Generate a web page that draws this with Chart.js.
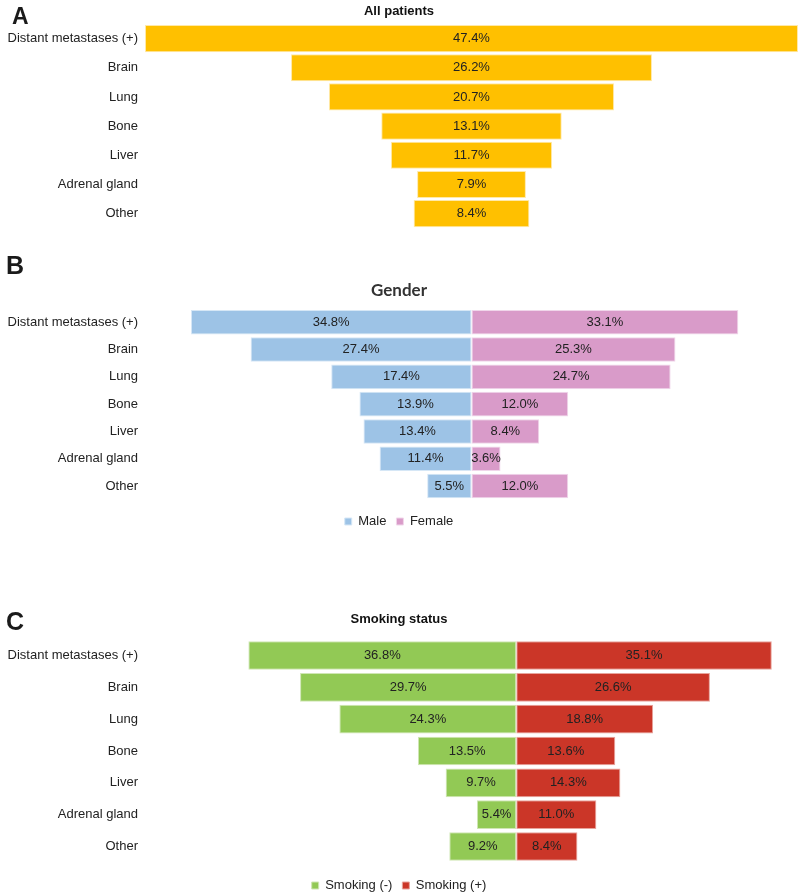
<!DOCTYPE html>
<html>
<head>
<meta charset="utf-8">
<script src="https://cdn.jsdelivr.net/npm/chart.js@4.4.1/dist/chart.umd.min.js"></script>
<style>
  html, body { margin: 0; padding: 0; background: #fff; overflow: hidden; }
  body { width: 800px; height: 895px; position: relative; font-family: "Liberation Sans", Arial, sans-serif; }
  .panel { position: absolute; left: 0; width: 800px; }
  .tag { position: absolute; font-weight: bold; line-height: 1; color: #1a1a1a; }
</style>
</head>
<body>
<div class="panel" style="top:0;height:243px"><canvas id="chartA"></canvas></div>
<div class="panel" style="top:240px;height:298px"><canvas id="chartB"></canvas></div>
<div class="panel" style="top:580px;height:322px"><canvas id="chartC"></canvas></div>
<div class="tag" style="left:12px;top:5px;font-size:23px">A</div>
<div class="tag" style="left:6px;top:253px;font-size:25px">B</div>
<div class="tag" style="left:6px;top:609px;font-size:25px">C</div>

<script>
// Metastatic sites (same order in all three panels)
const sites = ['Distant metastases (+)', 'Brain', 'Lung', 'Bone', 'Liver', 'Adrenal gland', 'Other'];

// A - all patients
const allPatients = [47.4, 26.2, 20.7, 13.1, 11.7, 7.9, 8.4];

// B - gender
const male = [34.8, 27.4, 17.4, 13.9, 13.4, 11.4, 5.5];
const female = [33.1, 25.3, 24.7, 12.0, 8.4, 3.6, 12.0];

// C - smoking status
const smokingNeg = [36.8, 29.7, 24.3, 13.5, 9.7, 5.4, 9.2];
const smokingPos = [35.1, 26.6, 18.8, 13.6, 14.3, 11.0, 8.4];

Chart.defaults.font.family = '"Liberation Sans", Arial, sans-serif';
Chart.defaults.font.size = 13;
Chart.defaults.color = '#222';

// percentage written in the middle of every bar
const valueLabels = {
  id: 'valueLabels',
  afterDatasetsDraw(chart) {
    const ctx = chart.ctx;
    ctx.save();
    ctx.font = '13px "Liberation Sans", Arial, sans-serif';
    ctx.fillStyle = '#222';
    ctx.textAlign = 'center';
    ctx.textBaseline = 'middle';
    chart.data.datasets.forEach((ds, i) => {
      chart.getDatasetMeta(i).data.forEach((bar, j) => {
        const c = bar.getCenterPoint();
        ctx.fillText(ds.pct[j].toFixed(1) + '%', c.x, c.y);
      });
    });
    ctx.restore();
  }
};

function siteAxis() {
  return {
    type: 'category',
    stacked: true,
    grid: { display: false, drawTicks: false },
    border: { display: false },
    ticks: { color: '#222', font: { size: 13 }, padding: 7 },
    afterFit(s) { s.width = 145; }
  };
}

function valueAxis(min, max, gap) {
  return {
    min: min,
    max: max,
    stacked: true,
    display: gap > 0,
    grid: { display: false, drawTicks: false },
    border: { display: false },
    ticks: { display: false },
    afterFit(s) { s.height = gap; }
  };
}

function bars(label, values, sign, color, edge) {
  return {
    label: label,
    data: values.map(v => sign * v),
    pct: values,
    backgroundColor: color,
    borderColor: edge,
    borderWidth: 1,
    borderSkipped: false,
    barPercentage: 0.9,
    categoryPercentage: 1
  };
}

function legendOpts() {
  return {
    display: true,
    position: 'bottom',
    labels: { boxWidth: 7, boxHeight: 7, padding: 10, color: '#222', font: { size: 13 } }
  };
}

// A: funnel, each bar centred on zero
const halfA = Math.max(...allPatients) / 2;
new Chart(document.getElementById('chartA'), {
  type: 'bar',
  data: {
    labels: sites,
    datasets: [{
      label: 'All patients',
      data: allPatients.map(v => [-v / 2, v / 2]),
      pct: allPatients,
      backgroundColor: '#FFC000',
      borderColor: '#FFE9A8',
      borderWidth: 1,
      borderSkipped: false,
      barPercentage: 0.93,
      categoryPercentage: 1
    }]
  },
  options: {
    indexAxis: 'y',
    responsive: true,
    maintainAspectRatio: false,
    animation: false,
    layout: { padding: { left: 0, right: 2, top: 0, bottom: 0 } },
    scales: {
      x: valueAxis(-halfA, halfA, 0),
      y: siteAxis()
    },
    plugins: {
      legend: { display: false },
      tooltip: { enabled: false },
      title: {
        display: true,
        text: 'All patients',
        color: '#111',
        font: { size: 13, weight: 'bold' },
        padding: { top: 4, bottom: 4.4 }
      }
    }
  },
  plugins: [valueLabels]
});

// B: gender butterfly
new Chart(document.getElementById('chartB'), {
  type: 'bar',
  data: {
    labels: sites,
    datasets: [
      bars('Male', male, -1, '#9DC3E6', '#D6E7F6'),
      bars('Female', female, 1, '#D99BC9', '#F0D6EA')
    ]
  },
  options: {
    indexAxis: 'y',
    responsive: true,
    maintainAspectRatio: false,
    animation: false,
    layout: { padding: { left: 0, right: 2, top: 0, bottom: 0 } },
    scales: {
      x: valueAxis(-40.5, 40.5, 5.3),
      y: siteAxis()
    },
    plugins: {
      legend: legendOpts(),
      tooltip: { enabled: false },
      title: {
        display: true,
        text: 'Gender',
        color: '#333',
        font: { family: 'Lato', size: 17, weight: 'bold' },
        padding: { top: 40.8, bottom: 7.4 }
      }
    }
  },
  plugins: [valueLabels]
});

// C: smoking status butterfly
new Chart(document.getElementById('chartC'), {
  type: 'bar',
  data: {
    labels: sites,
    datasets: [
      bars('Smoking (-)', smokingNeg, -1, '#92C955', '#CFE6B4'),
      bars('Smoking (+)', smokingPos, 1, '#CB3628', '#E8A49C')
    ]
  },
  options: {
    indexAxis: 'y',
    responsive: true,
    maintainAspectRatio: false,
    animation: false,
    layout: { padding: { left: 0, right: 2, top: 0, bottom: 0 } },
    scales: {
      x: valueAxis(-51, 38.7, 6.6),
      y: siteAxis()
    },
    plugins: {
      legend: legendOpts(),
      tooltip: { enabled: false },
      title: {
        display: true,
        text: 'Smoking status',
        color: '#111',
        font: { size: 13, weight: 'bold' },
        padding: { top: 31.2, bottom: 12.8 }
      }
    }
  },
  plugins: [valueLabels]
});
</script>
</body>
</html>
